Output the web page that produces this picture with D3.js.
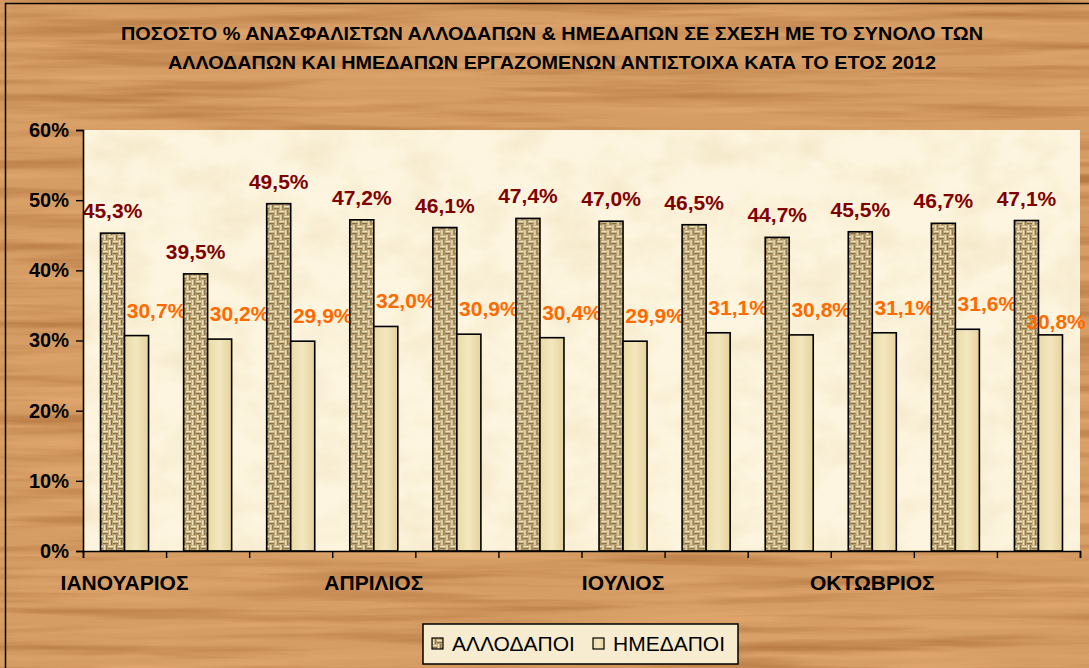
<!DOCTYPE html>
<html>
<head>
<meta charset="utf-8">
<script src="https://cdn.jsdelivr.net/npm/d3@7"></script>
<style>
  html, body { margin: 0; padding: 0; background: #fff; }
  svg { display: block; }
</style>
</head>
<body>
<svg></svg>
<script>
var width = 1089;
var height = 668;
var margin = {'top': 130, 'bottom': 115, 'left': 83, 'right': 9}

// data
let months = ['ΙΑΝΟΥΑΡΙΟΣ','ΦΕΒΡΟΥΑΡΙΟΣ','ΜΑΡΤΙΟΣ','ΑΠΡΙΛΙΟΣ','ΜΑΙΟΣ','ΙΟΥΝΙΟΣ',
              'ΙΟΥΛΙΟΣ','ΑΥΓΟΥΣΤΟΣ','ΣΕΠΤΕΜΒΡΙΟΣ','ΟΚΤΩΒΡΙΟΣ','ΝΟΕΜΒΡΙΟΣ','ΔΕΚΕΜΒΡΙΟΣ']
let series = ['ΑΛΛΟΔΑΠΟΙ', 'ΗΜΕΔΑΠΟΙ']
let allodapoi = [45.3, 39.5, 49.5, 47.2, 46.1, 47.4, 47.0, 46.5, 44.7, 45.5, 46.7, 47.1]
let hmedapoi  = [30.7, 30.2, 29.9, 32.0, 30.9, 30.4, 29.9, 31.1, 30.8, 31.1, 31.6, 30.8]
let yTicks = [0, 10, 20, 30, 40, 50, 60]
let titleLines = ['ΠΟΣΟΣΤΟ % ΑΝΑΣΦΑΛΙΣΤΩΝ ΑΛΛΟΔΑΠΩΝ & ΗΜΕΔΑΠΩΝ ΣΕ ΣΧΕΣΗ ΜΕ ΤΟ ΣΥΝΟΛΟ ΤΩΝ',
                  'ΑΛΛΟΔΑΠΩΝ ΚΑΙ ΗΜΕΔΑΠΩΝ ΕΡΓΑΖΟΜΕΝΩΝ ΑΝΤΙΣΤΟΙΧΑ ΚΑΤΑ ΤΟ ΕΤΟΣ 2012']

const chartData = months.map((m, i) => ({month: m, values: [allodapoi[i], hmedapoi[i]]}))

const grLocale = d3.formatLocale({decimal: ',', thousands: '.', grouping: [3], currency: ['', '€']})
const fmt = grLocale.format('.1f')

var x = d3.scaleBand()
    .domain(months)
    .range([margin.left, width - margin.right])

var x1 = d3.scaleBand()
    .domain(series)
    .range([0, x.bandwidth()])
    .paddingOuter(0.73)

var xIdx = d3.scaleLinear()
    .domain([0, months.length])
    .range([margin.left, width - margin.right])

var y = d3.scaleLinear()
    .domain([0, 60])
    .range([height - margin.bottom - 2, margin.top])

const svg = d3.select('svg')
    .attr('width', width)
    .attr('height', height)
    .attr('font-family', 'Arial, "Liberation Sans", sans-serif')

const defs = svg.append('defs')

function noiseFilter(id, freq, seed, rgb, slope, offset) {
  const f = defs.append('filter').attr('id', id)
      .attr('x', 0).attr('y', 0).attr('width', '100%').attr('height', '100%')
      .attr('color-interpolation-filters', 'sRGB')
  f.append('feTurbulence')
      .attr('type', 'fractalNoise')
      .attr('baseFrequency', freq)
      .attr('numOctaves', 4)
      .attr('seed', seed)
  f.append('feColorMatrix')
      .attr('type', 'matrix')
      .attr('values', `0 0 0 0 ${rgb[0]}  0 0 0 0 ${rgb[1]}  0 0 0 0 ${rgb[2]}  ${slope} 0 0 0 ${offset}`)
}
// wood grain for the outer background
noiseFilter('woodLight', '0.005 0.1', 21, [0.91, 0.68, 0.46], 1.5, -0.7)
noiseFilter('wood', '0.0035 0.075', 7, [0.66, 0.41, 0.2], 1.6, -0.72)
// faint parchment for the plot area
noiseFilter('parch', '0.02 0.03', 4, [0.85, 0.74, 0.5], 1.2, -0.45)

// woven texture for the first series
const weave = defs.append('pattern').attr('id', 'weave')
    .attr('patternUnits', 'userSpaceOnUse')
    .attr('width', 10).attr('height', 10)
weave.append('rect').attr('width', 10).attr('height', 10).attr('fill', '#c4ad7e')
const dark = '#7a6238', light = '#efe3bd'
;[[0, 0], [5, 5]].forEach(([ox, oy]) => {
  weave.append('rect').attr('x', ox).attr('y', oy + 1).attr('width', 5).attr('height', 1.2).attr('fill', light)
  weave.append('rect').attr('x', ox).attr('y', oy + 3.2).attr('width', 5).attr('height', 1).attr('fill', dark)
})
;[[5, 0], [0, 5]].forEach(([ox, oy]) => {
  weave.append('rect').attr('x', ox + 1).attr('y', oy).attr('width', 1.2).attr('height', 5).attr('fill', light)
  weave.append('rect').attr('x', ox + 3.2).attr('y', oy).attr('width', 1).attr('height', 5).attr('fill', dark)
})

// soft gradient for the second series
const grad = defs.append('linearGradient').attr('id', 'paper')
    .attr('x1', 0).attr('x2', 1).attr('y1', 0).attr('y2', 0)
grad.append('stop').attr('offset', '0%').attr('stop-color', '#eadba6')
grad.append('stop').attr('offset', '50%').attr('stop-color', '#f3e7bf')
grad.append('stop').attr('offset', '100%').attr('stop-color', '#e6d29c')

const fills = ['url(#weave)', 'url(#paper)']
const labelColors = ['#7f0000', '#ff6a00']

// background
svg.append('rect').attr('width', width).attr('height', height).attr('fill', '#d59c64')
svg.append('rect').attr('width', width).attr('height', height).attr('filter', 'url(#woodLight)')
svg.append('rect').attr('width', width).attr('height', height).attr('filter', 'url(#wood)')
svg.append('rect')
    .attr('x', 5.5).attr('y', 3.5)
    .attr('width', width + 20).attr('height', height + 20)
    .attr('fill', 'none').attr('stroke', '#000').attr('stroke-width', 1.5)

// title
svg.append('g').selectAll('text')
    .data(titleLines)
    .join('text')
    .attr('x', 552)
    .attr('y', (d, i) => 40 + i * 29)
    .attr('text-anchor', 'middle')
    .attr('font-size', 18)
    .attr('font-weight', 'bold')
    .attr('fill', '#000')
    .attr('textLength', (d, i) => i === 0 ? 862 : 768)
    .attr('lengthAdjust', 'spacingAndGlyphs')
    .text(d => d)

// plot area
const plotW = width - margin.left - margin.right
const plotH = y(0) - y(60)
svg.append('rect')
    .attr('x', margin.left).attr('y', y(60))
    .attr('width', plotW).attr('height', plotH)
    .attr('fill', '#fdf5df')
svg.append('rect')
    .attr('x', margin.left).attr('y', y(60))
    .attr('width', plotW).attr('height', plotH)
    .attr('filter', 'url(#parch)')
    .attr('opacity', 0.35)

// bars
const group = svg.append('g').selectAll('g')
    .data(chartData)
    .join('g')
    .attr('transform', d => `translate(${x(d.month)},0)`)

group.selectAll('rect')
    .data(d => d.values)
    .join('rect')
    .attr('x', (d, i) => x1(series[i]))
    .attr('y', d => y(d))
    .attr('width', x1.bandwidth())
    .attr('height', d => y(0) - y(d))
    .attr('fill', (d, i) => fills[i])
    .attr('stroke', '#000')
    .attr('stroke-width', 1.6)

// data labels; a label pushed back from the right edge drops a little so it clears its neighbour
function labelX(node, i) {
  const gx = x(d3.select(node.parentNode).datum().month)
  const cx = x1(series[i]) + x1.bandwidth() / 2 + (i === 1 ? 20 : 0)
  return {x: Math.min(cx, width - 33 - gx), clamped: cx > width - 33 - gx}
}

group.selectAll('text')
    .data(d => d.values)
    .join('text')
    .attr('x', function(d, i) { return labelX(this, i).x })
    .attr('y', function(d, i) {
      return y(d) - (i === 1 ? 18 : 15) + (labelX(this, i).clamped ? 12 : 0)
    })
    .attr('text-anchor', 'middle')
    .attr('font-size', 21)
    .attr('font-weight', 'bold')
    .attr('fill', (d, i) => labelColors[i])
    .text(d => fmt(d) + '%')

// axes
const yAxis = d3.axisLeft(y)
    .tickValues(yTicks)
    .tickSize(7)
    .tickPadding(7)
    .tickFormat(d => d + '%')

svg.append('g')
    .attr('class', 'y axis')
    .attr('transform', `translate(${margin.left},0)`)
    .call(yAxis)
    .call(g => g.select('.domain').attr('stroke-width', 1.6))
    .call(g => g.selectAll('line').attr('stroke-width', 1.4))
    .call(g => g.selectAll('text')
        .attr('font-size', 20).attr('font-weight', 'bold').attr('fill', '#000')
        .attr('font-family', 'Arial, "Liberation Sans", sans-serif'))

const xTicks = d3.axisBottom(xIdx)
    .tickValues(d3.range(months.length + 1))
    .tickSize(7)
    .tickFormat('')

svg.append('g')
    .attr('class', 'x axis')
    .attr('transform', `translate(0,${y(0)})`)
    .call(xTicks)
    .call(g => g.select('.domain').attr('stroke-width', 1.6))
    .call(g => g.selectAll('line').attr('stroke-width', 1.4))

const xAxis = d3.axisBottom(x)
    .tickSize(0)
    .tickPadding(24)
    .tickFormat((d, i) => i % 3 === 0 ? d : '')

svg.append('g')
    .attr('class', 'x labels')
    .attr('transform', `translate(0,${y(0)})`)
    .call(xAxis)
    .call(g => g.select('.domain').remove())
    .call(g => g.selectAll('text')
        .attr('font-size', 21).attr('font-weight', 'bold').attr('fill', '#000')
        .attr('font-family', 'Arial, "Liberation Sans", sans-serif'))

// legend
const legend = svg.append('g').attr('transform', 'translate(423,624)')
legend.append('rect')
    .attr('width', 315).attr('height', 40)
    .attr('fill', '#f7ecd0')
    .attr('stroke', '#000').attr('stroke-width', 1.5)

const legendX = [9, 170]
const item = legend.selectAll('g.item')
    .data(series)
    .join('g')
    .attr('class', 'item')
    .attr('transform', (d, i) => `translate(${legendX[i]},0)`)

item.append('rect')
    .attr('y', 14).attr('width', 11).attr('height', 11)
    .attr('fill', (d, i) => fills[i])
    .attr('stroke', '#000').attr('stroke-width', 1.2)

item.append('text')
    .attr('x', 20).attr('y', 27)
    .attr('font-size', 21)
    .attr('fill', '#000')
    .text(d => d)
</script>
</body>
</html>
